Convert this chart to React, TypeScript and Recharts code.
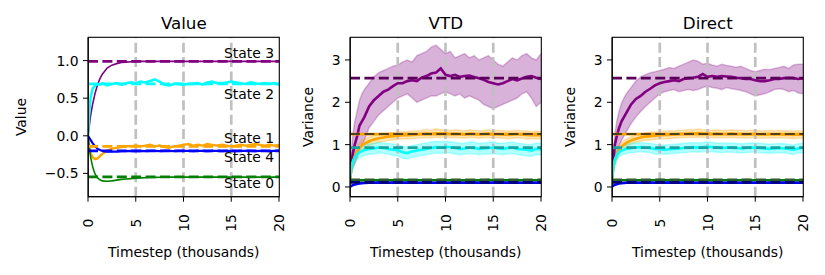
import React from "react";
import { ComposedChart, Line, Area, XAxis, YAxis, ReferenceLine } from "recharts";

// x positions (thousands of timesteps)
const timesteps = [0, 0.1, 0.2, 0.3, 0.5, 0.75, 1, 1.25, 1.5, 2, 2.5, 3, 3.5, 4, 4.5, 5, 5.5, 6, 6.5, 7, 7.5, 8, 8.5, 9, 9.5, 10, 10.5, 11, 11.5, 12, 12.5, 13, 13.5, 14, 14.5, 15, 15.5, 16, 16.5, 17, 17.5, 18, 18.5, 19, 19.5, 20];

// ---- Value panel ----
const valueState3 = [0, 0.1, 0.2, 0.29, 0.43, 0.57, 0.68, 0.76, 0.82, 0.9, 0.94, 0.96, 0.975, 0.98, 0.985, 0.988, 0.99, 0.99, 0.99, 0.99, 0.99, 0.99, 0.99, 0.99, 0.99, 0.99, 0.99, 0.99, 0.99, 0.99, 0.99, 0.99, 0.99, 0.99, 0.99, 0.99, 0.99, 0.99, 0.99, 0.99, 0.99, 0.99, 0.99, 0.99, 0.99, 0.99];
const valueState2 = [0, 0.25, 0.42, 0.53, 0.63, 0.67, 0.69, 0.68, 0.7, 0.67, 0.69, 0.7, 0.68, 0.7, 0.71, 0.7, 0.72, 0.71, 0.73, 0.75, 0.72, 0.68, 0.67, 0.69, 0.69, 0.68, 0.69, 0.69, 0.7, 0.68, 0.71, 0.72, 0.7, 0.7, 0.71, 0.72, 0.71, 0.7, 0.69, 0.71, 0.7, 0.69, 0.7, 0.69, 0.7, 0.68];
const valueState1 = [0, -0.1, -0.18, -0.24, -0.29, -0.31, -0.3, -0.27, -0.24, -0.2, -0.17, -0.16, -0.15, -0.14, -0.14, -0.13, -0.14, -0.13, -0.12, -0.14, -0.13, -0.15, -0.16, -0.14, -0.13, -0.12, -0.11, -0.13, -0.12, -0.13, -0.11, -0.12, -0.13, -0.12, -0.13, -0.14, -0.13, -0.12, -0.13, -0.12, -0.11, -0.12, -0.13, -0.12, -0.13, -0.12];
const valueState4 = [0, -0.02, -0.04, -0.06, -0.1, -0.14, -0.17, -0.19, -0.2, -0.21, -0.21, -0.21, -0.205, -0.205, -0.2, -0.205, -0.2, -0.205, -0.2, -0.2, -0.205, -0.2, -0.2, -0.205, -0.2, -0.2, -0.2, -0.205, -0.2, -0.2, -0.205, -0.2, -0.2, -0.205, -0.2, -0.2, -0.205, -0.2, -0.2, -0.2, -0.205, -0.2, -0.2, -0.205, -0.2, -0.2];
const valueState0 = [0, -0.12, -0.22, -0.3, -0.42, -0.51, -0.56, -0.585, -0.6, -0.605, -0.6, -0.59, -0.58, -0.575, -0.57, -0.565, -0.56, -0.558, -0.555, -0.553, -0.552, -0.55, -0.55, -0.55, -0.55, -0.55, -0.55, -0.55, -0.55, -0.55, -0.55, -0.55, -0.55, -0.55, -0.55, -0.55, -0.55, -0.55, -0.55, -0.55, -0.55, -0.55, -0.55, -0.55, -0.55, -0.55];
const trueValues = [0.99, 0.69, -0.14, -0.2, -0.545];
const stateNames = ["State 3", "State 2", "State 1", "State 4", "State 0"];
const valueTicks = [-0.5, 0, 0.5, 1.0];

// ---- VTD panel ----
const vtdPurple = [0.2, 0.45, 0.65, 0.8, 1.0, 1.2, 1.45, 1.55, 1.65, 1.9, 2.05, 2.15, 2.25, 2.3, 2.38, 2.45, 2.45, 2.5, 2.52, 2.5, 2.58, 2.62, 2.68, 2.7, 2.8, 2.65, 2.62, 2.65, 2.6, 2.62, 2.63, 2.6, 2.57, 2.53, 2.48, 2.45, 2.42, 2.45, 2.5, 2.55, 2.52, 2.56, 2.6, 2.62, 2.58, 2.55];
const vtdPurpleHi = [0.25, 0.7, 1.0, 1.25, 1.55, 1.8, 2.05, 2.2, 2.3, 2.45, 2.6, 2.7, 2.75, 2.8, 2.85, 2.88, 2.95, 3.0, 2.95, 3.1, 3.15, 3.2, 3.3, 3.35, 3.25, 3.15, 3.2, 3.05, 3.1, 3.15, 3.05, 3.1, 3.0, 3.05, 3.1, 3.0, 2.9, 2.85, 2.95, 3.05, 3.0, 3.1, 3.15, 3.05, 3.0, 3.15];
const vtdPurpleLo = [0.15, 0.25, 0.35, 0.45, 0.55, 0.7, 0.88, 1.0, 1.1, 1.4, 1.55, 1.7, 1.8, 1.9, 2.0, 2.1, 2.15, 2.2, 2.1, 2.0, 2.05, 2.1, 2.15, 2.15, 2.2, 2.25, 2.2, 2.15, 2.2, 2.1, 2.15, 2.1, 2.05, 1.95, 1.9, 1.85, 1.9, 1.95, 2.0, 2.05, 2.1, 2.2, 2.25, 2.1, 1.9, 2.0];
const vtdOrange = [0.2, 0.35, 0.5, 0.6, 0.72, 0.83, 0.92, 0.98, 1.02, 1.08, 1.12, 1.15, 1.17, 1.19, 1.2, 1.21, 1.22, 1.22, 1.23, 1.24, 1.25, 1.26, 1.25, 1.27, 1.26, 1.27, 1.25, 1.26, 1.25, 1.24, 1.26, 1.25, 1.24, 1.25, 1.26, 1.24, 1.25, 1.24, 1.23, 1.24, 1.25, 1.24, 1.23, 1.22, 1.23, 1.22];
const vtdOrangeHi = [0.25, 0.45, 0.62, 0.74, 0.86, 0.96, 1.04, 1.1, 1.13, 1.18, 1.22, 1.25, 1.27, 1.28, 1.29, 1.3, 1.31, 1.31, 1.32, 1.33, 1.34, 1.36, 1.34, 1.38, 1.35, 1.36, 1.34, 1.35, 1.34, 1.33, 1.35, 1.34, 1.33, 1.34, 1.35, 1.33, 1.34, 1.33, 1.32, 1.33, 1.34, 1.33, 1.32, 1.31, 1.32, 1.31];
const vtdOrangeLo = [0.15, 0.25, 0.38, 0.46, 0.58, 0.7, 0.8, 0.86, 0.91, 0.98, 1.02, 1.05, 1.07, 1.1, 1.11, 1.12, 1.13, 1.13, 1.14, 1.15, 1.16, 1.17, 1.16, 1.17, 1.17, 1.18, 1.16, 1.17, 1.16, 1.15, 1.17, 1.16, 1.15, 1.16, 1.17, 1.15, 1.16, 1.15, 1.14, 1.15, 1.16, 1.15, 1.14, 1.13, 1.14, 1.13];
const vtdCyan = [0.2, 0.38, 0.5, 0.6, 0.7, 0.77, 0.82, 0.85, 0.87, 0.9, 0.91, 0.93, 0.92, 0.9, 0.88, 0.87, 0.82, 0.8, 0.84, 0.86, 0.88, 0.9, 0.92, 0.94, 0.93, 0.95, 0.94, 0.92, 0.9, 0.91, 0.93, 0.92, 0.9, 0.91, 0.92, 0.93, 0.91, 0.9, 0.92, 0.93, 0.9, 0.89, 0.88, 0.86, 0.9, 0.89];
const vtdCyanHi = [0.25, 0.5, 0.64, 0.74, 0.84, 0.9, 0.95, 0.98, 1.0, 1.02, 1.03, 1.05, 1.04, 1.03, 1.01, 1.0, 0.96, 0.95, 0.98, 1.0, 1.02, 1.04, 1.06, 1.08, 1.07, 1.08, 1.07, 1.05, 1.03, 1.04, 1.06, 1.05, 1.03, 1.04, 1.05, 1.06, 1.04, 1.03, 1.05, 1.06, 1.03, 1.02, 1.01, 1.0, 1.04, 1.03];
const vtdCyanLo = [0.15, 0.28, 0.38, 0.47, 0.57, 0.64, 0.69, 0.72, 0.74, 0.77, 0.78, 0.8, 0.79, 0.77, 0.75, 0.73, 0.68, 0.66, 0.7, 0.72, 0.74, 0.76, 0.78, 0.8, 0.79, 0.81, 0.8, 0.78, 0.76, 0.77, 0.79, 0.78, 0.76, 0.77, 0.78, 0.79, 0.77, 0.76, 0.78, 0.79, 0.76, 0.75, 0.74, 0.72, 0.76, 0.75];
const vtdGreen = [0.1, 0.12, 0.13, 0.14, 0.15, 0.15, 0.155, 0.155, 0.16, 0.16, 0.16, 0.155, 0.16, 0.16, 0.155, 0.16, 0.165, 0.16, 0.155, 0.16, 0.16, 0.155, 0.16, 0.16, 0.165, 0.16, 0.155, 0.16, 0.16, 0.155, 0.16, 0.16, 0.155, 0.16, 0.165, 0.16, 0.16, 0.155, 0.16, 0.16, 0.155, 0.16, 0.16, 0.155, 0.16, 0.16];
const vtdBlue = [0, 0.02, 0.03, 0.045, 0.06, 0.07, 0.08, 0.09, 0.095, 0.1, 0.1, 0.105, 0.1, 0.1, 0.105, 0.1, 0.1, 0.105, 0.1, 0.1, 0.1, 0.105, 0.1, 0.1, 0.105, 0.1, 0.1, 0.1, 0.105, 0.1, 0.1, 0.105, 0.1, 0.1, 0.1, 0.105, 0.1, 0.1, 0.105, 0.1, 0.1, 0.1, 0.105, 0.1, 0.1, 0.1];

// ---- Direct panel ----
const directPurple = [0.2, 0.5, 0.75, 1.0, 1.2, 1.4, 1.55, 1.65, 1.75, 1.95, 2.08, 2.15, 2.25, 2.32, 2.4, 2.45, 2.48, 2.5, 2.52, 2.5, 2.55, 2.57, 2.58, 2.6, 2.67, 2.6, 2.62, 2.6, 2.62, 2.61, 2.6, 2.58, 2.57, 2.55, 2.55, 2.52, 2.5, 2.5, 2.52, 2.55, 2.55, 2.57, 2.58, 2.57, 2.55, 2.57];
const directPurpleHi = [0.25, 0.7, 1.0, 1.25, 1.55, 1.8, 1.98, 2.1, 2.2, 2.35, 2.5, 2.6, 2.65, 2.7, 2.72, 2.75, 2.78, 2.82, 2.8, 2.85, 2.9, 2.95, 3.0, 2.97, 2.9, 2.92, 2.88, 2.85, 2.9, 2.87, 2.85, 2.83, 2.85, 2.8, 2.75, 2.72, 2.75, 2.78, 2.77, 2.8, 2.82, 2.85, 2.8, 2.88, 2.9, 2.9];
const directPurpleLo = [0.15, 0.3, 0.45, 0.6, 0.8, 0.98, 1.1, 1.2, 1.3, 1.5, 1.65, 1.78, 1.9, 2.0, 2.1, 2.2, 2.25, 2.28, 2.3, 2.25, 2.28, 2.3, 2.28, 2.3, 2.35, 2.38, 2.35, 2.33, 2.3, 2.35, 2.32, 2.3, 2.28, 2.25, 2.2, 2.15, 2.18, 2.2, 2.25, 2.3, 2.32, 2.3, 2.25, 2.28, 2.22, 2.2];
const directOrange = [0.2, 0.38, 0.52, 0.63, 0.76, 0.87, 0.95, 1.0, 1.04, 1.1, 1.14, 1.17, 1.19, 1.2, 1.21, 1.22, 1.23, 1.23, 1.24, 1.25, 1.25, 1.26, 1.26, 1.27, 1.26, 1.26, 1.25, 1.26, 1.25, 1.25, 1.26, 1.25, 1.25, 1.24, 1.25, 1.25, 1.24, 1.24, 1.25, 1.24, 1.25, 1.24, 1.24, 1.23, 1.24, 1.23];
const directOrangeHi = [0.25, 0.48, 0.63, 0.75, 0.88, 0.98, 1.05, 1.1, 1.13, 1.19, 1.23, 1.26, 1.28, 1.29, 1.3, 1.31, 1.32, 1.32, 1.33, 1.34, 1.34, 1.36, 1.35, 1.37, 1.35, 1.35, 1.34, 1.35, 1.34, 1.34, 1.35, 1.34, 1.34, 1.33, 1.34, 1.34, 1.33, 1.33, 1.34, 1.33, 1.34, 1.33, 1.33, 1.32, 1.33, 1.32];
const directOrangeLo = [0.15, 0.28, 0.41, 0.51, 0.64, 0.76, 0.85, 0.9, 0.95, 1.01, 1.05, 1.08, 1.1, 1.11, 1.12, 1.13, 1.14, 1.14, 1.15, 1.16, 1.16, 1.17, 1.17, 1.18, 1.17, 1.17, 1.16, 1.17, 1.16, 1.16, 1.17, 1.16, 1.16, 1.15, 1.16, 1.16, 1.15, 1.15, 1.16, 1.15, 1.16, 1.15, 1.15, 1.14, 1.15, 1.14];
const directCyan = [0.2, 0.4, 0.55, 0.65, 0.75, 0.82, 0.86, 0.88, 0.9, 0.92, 0.93, 0.94, 0.93, 0.92, 0.9, 0.89, 0.88, 0.89, 0.9, 0.91, 0.92, 0.93, 0.94, 0.93, 0.94, 0.95, 0.94, 0.93, 0.92, 0.93, 0.93, 0.92, 0.91, 0.92, 0.93, 0.93, 0.92, 0.91, 0.9, 0.91, 0.92, 0.91, 0.9, 0.88, 0.91, 0.92];
const directCyanHi = [0.25, 0.5, 0.67, 0.77, 0.87, 0.93, 0.97, 0.99, 1.01, 1.03, 1.04, 1.05, 1.04, 1.03, 1.01, 1.0, 0.99, 1.0, 1.01, 1.02, 1.03, 1.04, 1.05, 1.04, 1.05, 1.06, 1.05, 1.04, 1.03, 1.04, 1.04, 1.03, 1.02, 1.03, 1.04, 1.04, 1.03, 1.02, 1.01, 1.02, 1.03, 1.02, 1.01, 0.99, 1.02, 1.03];
const directCyanLo = [0.15, 0.3, 0.43, 0.53, 0.63, 0.71, 0.75, 0.77, 0.79, 0.81, 0.82, 0.83, 0.82, 0.81, 0.78, 0.77, 0.77, 0.78, 0.79, 0.8, 0.81, 0.82, 0.83, 0.82, 0.83, 0.84, 0.83, 0.82, 0.81, 0.82, 0.82, 0.81, 0.8, 0.81, 0.82, 0.82, 0.81, 0.8, 0.79, 0.8, 0.81, 0.8, 0.79, 0.76, 0.8, 0.81];
const directGreen = [0.1, 0.12, 0.14, 0.15, 0.15, 0.155, 0.16, 0.16, 0.16, 0.155, 0.16, 0.16, 0.155, 0.16, 0.16, 0.165, 0.16, 0.155, 0.16, 0.16, 0.155, 0.16, 0.16, 0.16, 0.165, 0.16, 0.155, 0.16, 0.16, 0.16, 0.155, 0.16, 0.16, 0.165, 0.16, 0.16, 0.155, 0.16, 0.16, 0.16, 0.155, 0.16, 0.16, 0.16, 0.155, 0.16];
const directBlue = [0, 0.025, 0.04, 0.05, 0.065, 0.08, 0.09, 0.095, 0.1, 0.1, 0.105, 0.1, 0.1, 0.105, 0.1, 0.1, 0.1, 0.105, 0.1, 0.1, 0.105, 0.1, 0.1, 0.1, 0.105, 0.1, 0.1, 0.105, 0.1, 0.1, 0.1, 0.105, 0.1, 0.1, 0.105, 0.1, 0.1, 0.1, 0.105, 0.1, 0.1, 0.105, 0.1, 0.1, 0.1, 0.1];

const trueVariance = [2.57, 1.25, 0.93, 0.17, 0.11];
const varianceTicks = [0, 1, 2, 3];
const xTicks = [0, 5, 10, 15, 20];
const guideTicks = [5, 10, 15];

const PURPLE = "#800080";
const CYAN = "#00ffff";
const ORANGE = "#ffa500";
const BLUE = "#0000ff";
const GREEN = "#008000";

const FONT = "'DejaVu Sans', sans-serif";
const PLOT_W = 191;
const PLOT_TOP = 37.3;
const PLOT_BOTTOM = 196.7;
const AXIS_W = 64;
const X_AXIS_H = 40;
const CHART_H = 275;
const RIGHT_PAD = 14;
const panelLefts = [88.3, 350.3, 612.3];
const DASH = "10 4.4";

const valueData = timesteps.map((t, i) => ({
  t,
  s3: valueState3[i],
  s2: valueState2[i],
  s1: valueState1[i],
  s4: valueState4[i],
  s0: valueState0[i],
}));

const varRows = (p: number[], pl: number[], ph: number[], o: number[], ol: number[], oh: number[], c: number[], cl: number[], ch: number[], g: number[], b: number[]) =>
  timesteps.map((t, i) => ({
    t,
    p: p[i],
    pBand: [pl[i], ph[i]],
    o: o[i],
    oBand: [ol[i], oh[i]],
    c: c[i],
    cBand: [cl[i], ch[i]],
    g: g[i],
    b: b[i],
  }));

const vtdData = varRows(vtdPurple, vtdPurpleLo, vtdPurpleHi, vtdOrange, vtdOrangeLo, vtdOrangeHi, vtdCyan, vtdCyanLo, vtdCyanHi, vtdGreen, vtdBlue);
const directData = varRows(directPurple, directPurpleLo, directPurpleHi, directOrange, directOrangeLo, directOrangeHi, directCyan, directCyanLo, directCyanHi, directGreen, directBlue);

const fmtValue = (v: number) => (v < 0 ? "\u2212" + Math.abs(v).toFixed(1) : v.toFixed(1));
const fmtVar = (v: number) => String(v);

function XTick(props: any) {
  const { x, payload } = props;
  return (
    <text transform={`translate(${x + 5},${223}) rotate(-90)`} textAnchor="middle" fontSize={13.9} fill="#000" fontFamily={FONT}>
      {payload.value}
    </text>
  );
}

function StateLabel(props: any) {
  const { viewBox, text, dy } = props;
  if (!viewBox) return null;
  return (
    <text x={viewBox.x + viewBox.width - 5} y={viewBox.y + dy} textAnchor="end" fontSize={13.9} fill="#000" fontFamily={FONT}>
      {text}
    </text>
  );
}

function Frame({ left, domain, ticks, fmt, data, children }: any) {
  return (
    <div style={{ position: "absolute", left: left - AXIS_W, top: 0 }}>
      <ComposedChart
        width={AXIS_W + PLOT_W + RIGHT_PAD}
        height={CHART_H}
        data={data}
        margin={{ top: PLOT_TOP, right: RIGHT_PAD, bottom: CHART_H - PLOT_BOTTOM - X_AXIS_H, left: 0 }}
      >
        <XAxis dataKey="t" type="number" domain={[0, 20]} ticks={xTicks} interval={0} height={X_AXIS_H} tick={<XTick />} tickSize={5} stroke="#000" allowDataOverflow />
        <YAxis type="number" domain={domain} ticks={ticks} interval={0} width={AXIS_W} tickSize={5} tickMargin={4.5} tickFormatter={fmt} tick={{ fontSize: 13.9, fill: "#000", fontFamily: FONT }} stroke="#000" allowDataOverflow />
        {guideTicks.map((v) => (
          <ReferenceLine key={"g" + v} x={v} stroke="#c0c0c0" strokeWidth={2.7} strokeDasharray={DASH} />
        ))}
        {children}
      </ComposedChart>
    </div>
  );
}

function ValuePanel() {
  const keys = ["s3", "s2", "s1", "s4", "s0"];
  const colors = [PURPLE, CYAN, ORANGE, BLUE, GREEN];
  const widths = [1.6, 2.6, 2.4, 2.2, 1.6];
  const labelDy = [-3.3, 15, -3.3, 11.3, 11.5];
  return (
    <Frame left={panelLefts[0]} domain={[-0.81, 1.31]} ticks={valueTicks} fmt={fmtValue} data={valueData}>
      {keys.map((k, i) => (
        <Line key={k} type="linear" dataKey={k} stroke={colors[i]} strokeWidth={widths[i]} dot={false} activeDot={false} isAnimationActive={false} />
      ))}
      {trueValues.map((v, i) => (
        <ReferenceLine key={"t" + i} y={v} stroke={colors[i]} strokeWidth={2.7} strokeDasharray={DASH} label={<StateLabel text={stateNames[i]} dy={labelDy[i]} />} />
      ))}
    </Frame>
  );
}

function VariancePanel({ left, data }: any) {
  return (
    <Frame left={left} domain={[-0.23, 3.535]} ticks={varianceTicks} fmt={fmtVar} data={data}>
      <Area type="linear" dataKey="pBand" fill={PURPLE} fillOpacity={0.3} stroke={PURPLE} strokeOpacity={0.25} strokeWidth={1.5} dot={false} activeDot={false} isAnimationActive={false} />
      <Area type="linear" dataKey="oBand" fill={ORANGE} fillOpacity={0.3} stroke={ORANGE} strokeOpacity={0.25} strokeWidth={1.5} dot={false} activeDot={false} isAnimationActive={false} />
      <Area type="linear" dataKey="cBand" fill={CYAN} fillOpacity={0.3} stroke={CYAN} strokeOpacity={0.25} strokeWidth={1.5} dot={false} activeDot={false} isAnimationActive={false} />
      <Line type="linear" dataKey="p" stroke={PURPLE} strokeWidth={2.6} dot={false} activeDot={false} isAnimationActive={false} />
      <Line type="linear" dataKey="o" stroke={ORANGE} strokeWidth={2.6} dot={false} activeDot={false} isAnimationActive={false} />
      <Line type="linear" dataKey="c" stroke={CYAN} strokeWidth={2.6} dot={false} activeDot={false} isAnimationActive={false} />
      <Line type="linear" dataKey="g" stroke={GREEN} strokeWidth={2.6} dot={false} activeDot={false} isAnimationActive={false} />
      <Line type="linear" dataKey="b" stroke={BLUE} strokeWidth={2.6} dot={false} activeDot={false} isAnimationActive={false} />
      <ReferenceLine y={trueVariance[0]} stroke="#5a005a" strokeWidth={2.7} strokeDasharray={DASH} />
      <ReferenceLine y={trueVariance[1]} stroke={ORANGE} strokeWidth={2.7} />
      <ReferenceLine y={trueVariance[1]} stroke="#1e1e1e" strokeWidth={1.6} strokeDasharray={DASH} />
      <ReferenceLine y={trueVariance[2]} stroke="#1aa3a3" strokeWidth={2.7} strokeDasharray={DASH} />
      <ReferenceLine y={trueVariance[4]} stroke="#00007a" strokeWidth={2.7} strokeDasharray={DASH} />
      <ReferenceLine y={trueVariance[3]} stroke="#2b5e2b" strokeWidth={2.7} strokeDasharray={DASH} />
    </Frame>
  );
}

const titles = ["Value", "VTD", "Direct"];
const yLabels = ["Value", "Variance", "Variance"];
const yLabelX = [26, 313, 575];

export default function App() {
  return (
    <div style={{ position: "absolute", left: 0, top: 0, width: 825, height: 275, background: "#fff", fontFamily: FONT }}>
      <ValuePanel />
      <VariancePanel left={panelLefts[1]} data={vtdData} />
      <VariancePanel left={panelLefts[2]} data={directData} />
      <svg width={825} height={275} style={{ position: "absolute", left: 0, top: 0, pointerEvents: "none" }} fontFamily={FONT}>
        {panelLefts.map((l, i) => (
          <g key={i}>
            <rect x={l} y={PLOT_TOP} width={PLOT_W} height={PLOT_BOTTOM - PLOT_TOP} fill="none" stroke="#000" strokeWidth={1.1} />
            <text x={l + PLOT_W / 2} y={29} textAnchor="middle" fontSize={16.7} fill="#000">{titles[i]}</text>
            <text x={l + PLOT_W / 2} y={257} textAnchor="middle" fontSize={13.9} fill="#000">Timestep (thousands)</text>
            <text transform={`translate(${yLabelX[i]},${(PLOT_TOP + PLOT_BOTTOM) / 2}) rotate(-90)`} textAnchor="middle" fontSize={13.9} fill="#000">{yLabels[i]}</text>
          </g>
        ))}
      </svg>
    </div>
  );
}
